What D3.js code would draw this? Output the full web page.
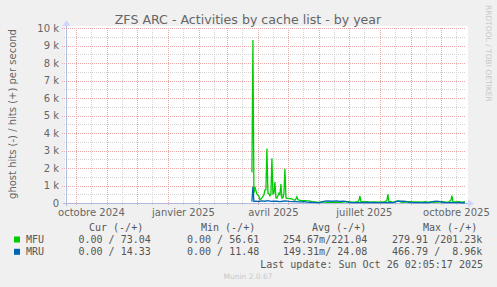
<!DOCTYPE html>
<html>
<head>
<meta charset="utf-8">
<script src="https://cdn.jsdelivr.net/npm/d3@7"></script>
<style>
  body { margin: 0; background: #F0F0F0; }
  svg { display: block; font-family: "DejaVu Sans", sans-serif; }
  .mono { font-family: "DejaVu Sans Mono", monospace; }
</style>
</head>
<body>
<svg id="chart" width="497" height="287"></svg>
<script>
// time window of the munin yearly graph (400 days)
var startTime = new Date(2024, 8, 21, 2, 5, 17);
var endTime = new Date(2025, 9, 26, 2, 5, 17);

var yTicks = [0, 1000, 2000, 3000, 4000, 5000, 6000, 7000, 8000, 9000, 10000];
var yTickLabels = ["0", "1 k", "2 k", "3 k", "4 k", "5 k", "6 k", "7 k", "8 k", "9 k", "10 k"];
var xLabelDates = ["2024-10-16", "2025-01-16", "2025-04-16", "2025-07-16", "2025-10-16"];
var xLabels = ["octobre 2024", "janvier 2025", "avril 2025", "juillet 2025", "octobre 2025"];

// MFU hits per second
var mfuDates = ["2025-03-26","2025-03-27","2025-03-28","2025-03-29","2025-03-30","2025-03-31","2025-04-01","2025-04-02","2025-04-03","2025-04-04",
  "2025-04-05","2025-04-06","2025-04-07","2025-04-08","2025-04-09","2025-04-10","2025-04-11","2025-04-12","2025-04-13","2025-04-14",
  "2025-04-15","2025-04-16","2025-04-17","2025-04-18","2025-04-19","2025-04-20","2025-04-21","2025-04-22","2025-04-23","2025-04-24",
  "2025-04-25","2025-04-26","2025-04-27","2025-04-28","2025-04-29","2025-04-30","2025-05-01","2025-05-02","2025-05-03","2025-05-04",
  "2025-05-05","2025-05-06","2025-05-07","2025-05-08","2025-05-09","2025-05-10","2025-05-11","2025-05-12","2025-05-14","2025-05-16",
  "2025-05-18","2025-05-20","2025-05-22","2025-05-25","2025-05-28","2025-06-01","2025-06-04","2025-06-07","2025-06-10","2025-06-13",
  "2025-06-16","2025-06-19","2025-06-22","2025-06-25","2025-06-28","2025-07-01","2025-07-04","2025-07-07","2025-07-10","2025-07-11",
  "2025-07-12","2025-07-13","2025-07-16","2025-07-19","2025-07-22","2025-07-25","2025-07-28","2025-07-31","2025-08-03","2025-08-06",
  "2025-08-08","2025-08-09","2025-08-10","2025-08-13","2025-08-16","2025-08-19","2025-08-22","2025-08-25","2025-08-28","2025-08-31",
  "2025-09-03","2025-09-06","2025-09-09","2025-09-12","2025-09-15","2025-09-18","2025-09-21","2025-09-24","2025-09-27","2025-09-30",
  "2025-10-03","2025-10-06","2025-10-09","2025-10-11","2025-10-12","2025-10-13","2025-10-16","2025-10-19","2025-10-22","2025-10-25"];
var mfuValues = [1750, 9320, 560, 940, 700, 520, 450, 390, 170, 230,
  290, 380, 460, 740, 760, 3120, 560, 540, 410, 480,
  2550, 520, 560, 1200, 300, 280, 420, 560, 480, 1080,
  280, 300, 550, 1950, 300, 270, 260, 250, 260, 240,
  230, 200, 180, 170, 230, 360, 200, 170, 140, 130,
  130, 120, 120, 75, 60, 30, 60, 45, 40, 35,
  50, 40, 35, 45, 60, 70, 55, 60, 75, 140,
  400, 90, 60, 70, 55, 60, 65, 50, 60, 70,
  150, 500, 90, 60, 55, 130, 50, 40, 60, 80,
  70, 60, 65, 55, 70, 50, 60, 40, 45, 60,
  70, 55, 65, 150, 420, 80, 60, 70, 55, 73];

// MRU hits per second
var mruDates = ["2025-03-26","2025-03-27","2025-03-28","2025-03-30","2025-04-02","2025-04-05","2025-04-08","2025-04-11","2025-04-14","2025-04-17",
  "2025-04-20","2025-04-23","2025-04-26","2025-04-29","2025-05-02","2025-05-05","2025-05-08","2025-05-11","2025-05-14","2025-05-17",
  "2025-05-20","2025-05-23","2025-05-26","2025-05-29","2025-06-01","2025-06-04","2025-06-07","2025-06-10","2025-06-13","2025-06-16",
  "2025-06-19","2025-06-22","2025-06-25","2025-06-28","2025-07-01","2025-07-05","2025-07-10","2025-07-15","2025-07-20","2025-07-25",
  "2025-07-30","2025-08-04","2025-08-09","2025-08-14","2025-08-18","2025-08-21","2025-08-24","2025-08-27","2025-08-30","2025-09-04",
  "2025-09-09","2025-09-14","2025-09-19","2025-09-24","2025-09-27","2025-09-30","2025-10-03","2025-10-08","2025-10-13","2025-10-18",
  "2025-10-22","2025-10-25"];
var mruValues = [80, 930, 90, 110, 80, 120, 100, 140, 90, 110,
  100, 80, 100, 120, 90, 80, 90, 70, 60, 75,
  50, 40, 30, 20, 25, 60, 110, 120, 100, 110,
  120, 90, 100, 90, 40, 20, 25, 20, 30, 20,
  25, 20, 30, 20, 90, 110, 100, 90, 30, 20,
  25, 20, 25, 90, 100, 80, 25, 20, 25, 20,
  15, 14];

var svg = d3.select("#chart");
var parseDay = d3.timeParse("%Y-%m-%d");

var pLeft = 66, pRight = 466, pTop = 28, pBottom = 203;
var x = d3.scaleTime().domain([startTime, endTime]).range([pLeft, pRight]);
var y = d3.scaleLinear().domain([0, 10000]).range([pBottom, pTop]);

// canvas
svg.append("rect").attr("x", 0).attr("y", 0).attr("width", 497).attr("height", 287).attr("fill", "#F0F0F0");
svg.append("rect").attr("x", pLeft - 1).attr("y", pTop - 2).attr("width", pRight - pLeft + 3).attr("height", pBottom - pTop + 2).attr("fill", "#FFFFFF");

var grid = svg.append("g");
var minorColor = "#d4d4d4", majorColor = "#e8a8a8";

// minor horizontal grid every 500
var minorY = [];
for (var v = 500; v < 10000; v += 1000) minorY.push(v);
grid.selectAll(".hmin").data(minorY).enter().append("line")
  .attr("x1", pLeft - 2).attr("x2", pRight)
  .attr("y1", function(d) { return Math.round(y(d)) + 0.5; })
  .attr("y2", function(d) { return Math.round(y(d)) + 0.5; })
  .attr("stroke", minorColor).attr("stroke-dasharray", "1,1");

// minor vertical grid on the 16th of each month
var midMonths = d3.timeMonth.range(startTime, endTime).map(function(m) { return d3.timeDay.offset(m, 15); })
  .filter(function(d) { return d > startTime && d < endTime; });
grid.selectAll(".vmin").data(midMonths).enter().append("line")
  .attr("x1", function(d) { return Math.round(x(d)) + 0.5; })
  .attr("x2", function(d) { return Math.round(x(d)) + 0.5; })
  .attr("y1", pTop).attr("y2", pBottom + 2)
  .attr("stroke", minorColor).attr("stroke-dasharray", "1,1");

// major horizontal grid
grid.selectAll(".hmaj").data(yTicks.slice(1)).enter().append("line")
  .attr("x1", pLeft - 4).attr("x2", pRight)
  .attr("y1", function(d) { return Math.round(y(d)) + 0.5; })
  .attr("y2", function(d) { return Math.round(y(d)) + 0.5; })
  .attr("stroke", majorColor).attr("stroke-dasharray", "1,1");

// major vertical grid on month starts
var monthStarts = d3.timeMonth.range(startTime, endTime);
grid.selectAll(".vmaj").data(monthStarts).enter().append("line")
  .attr("x1", function(d) { return Math.round(x(d)) + 0.5; })
  .attr("x2", function(d) { return Math.round(x(d)) + 0.5; })
  .attr("y1", pTop).attr("y2", pBottom + 3)
  .attr("stroke", majorColor).attr("stroke-dasharray", "1,1");

// axes lines + arrows
var axisColor = "#b4b8dc";
svg.append("line").attr("x1", pLeft - 3).attr("x2", pRight + 3).attr("y1", pBottom + 0.5).attr("y2", pBottom + 0.5).attr("stroke", axisColor);
svg.append("line").attr("x1", pLeft + 0.5).attr("x2", pLeft + 0.5).attr("y1", pBottom + 3).attr("y2", pTop - 3).attr("stroke", axisColor);
svg.append("path").attr("d", "M" + (pRight + 2) + "," + (pBottom - 3.5) + "L" + (pRight + 8) + "," + (pBottom + 0.5) + "L" + (pRight + 2) + "," + (pBottom + 4.5) + "Z").attr("fill", "#cfd6f8");
svg.append("path").attr("d", "M" + (pLeft - 3.5) + "," + (pTop - 2) + "L" + (pLeft + 0.5) + "," + (pTop - 8) + "L" + (pLeft + 4.5) + "," + (pTop - 2) + "Z").attr("fill", "#cfd6f8");

// series lines
var mfu = mfuDates.map(function(d, i) { return { t: parseDay(d), v: mfuValues[i] }; });
var mru = mruDates.map(function(d, i) { return { t: parseDay(d), v: mruValues[i] }; });
var line = d3.line().x(function(d) { return x(d.t); }).y(function(d) { return y(d.v); });

svg.append("path").datum(mfu).attr("d", line).attr("fill", "none").attr("stroke", "#00CC00").attr("stroke-width", 1.3);
svg.append("path").datum(mru).attr("d", line).attr("fill", "none").attr("stroke", "#0066B3").attr("stroke-width", 1.3);

// axis labels
var yAxis = d3.axisLeft(y).tickValues(yTicks).tickSize(0).tickPadding(7)
  .tickFormat(function(d, i) { return yTickLabels[i]; });
var gy = svg.append("g").attr("transform", "translate(" + pLeft + ",0)").call(yAxis);
gy.select(".domain").remove();
gy.selectAll("text").attr("font-size", 10).attr("fill", "#666666").attr("font-family", "DejaVu Sans, sans-serif");

var xAxis = d3.axisBottom(x).tickValues(xLabelDates.map(parseDay)).tickSize(0).tickPadding(6)
  .tickFormat(function(d, i) { return xLabels[i]; });
var gx = svg.append("g").attr("transform", "translate(0," + pBottom + ")").call(xAxis);
gx.select(".domain").remove();
gx.selectAll("text").attr("font-size", 10).attr("fill", "#666666").attr("font-family", "DejaVu Sans, sans-serif");

// title and side texts
svg.append("text").attr("x", 248).attr("y", 24).attr("text-anchor", "middle")
  .attr("font-size", 12.6).attr("fill", "#666666").text("ZFS ARC - Activities by cache list - by year");
svg.append("text").attr("transform", "translate(15.5,114) rotate(-90)").attr("text-anchor", "middle")
  .attr("font-size", 10).attr("fill", "#666666").text("ghost hits (-) / hits (+) per second");
svg.append("text").attr("transform", "translate(485.5,5) rotate(90)").attr("text-anchor", "start")
  .attr("font-size", 7.5).attr("fill", "#c8c8c8").text("RRDTOOL / TOBI OETIKER");

// legend
var legendNames = ["MFU", "MRU"];
var legendColors = ["#00CC00", "#0066B3"];
var legendCur = ["0.00 / 73.04", "0.00 / 14.33"];
var legendMin = ["0.00 / 56.61", "0.00 / 11.48"];
var legendAvg = ["254.67m/221.04", "149.31m/ 24.08"];
var legendMax = ["279.91 /201.23k", "466.79 /  8.96k"];
var headers = ["Cur (-/+)", "Min (-/+)", "Avg (-/+)", "Max (-/+)"];
var headerX = [89, 201, 312, 423];
var colX = [78.5, 187, 283, 392];

var lg = svg.append("g").attr("class", "mono").attr("font-size", 10).attr("fill", "#555555");
lg.selectAll(".hdr").data(headers).enter().append("text")
  .attr("x", function(d, i) { return headerX[i]; }).attr("y", 231).text(function(d) { return d; });

legendNames.forEach(function(name, i) {
  var by = 243 + i * 12.3;
  lg.append("rect").attr("x", 14).attr("y", by - 6.5).attr("width", 6).attr("height", 6).attr("fill", legendColors[i]);
  lg.append("text").attr("x", 26).attr("y", by).text(name);
  [legendCur[i], legendMin[i], legendAvg[i], legendMax[i]].forEach(function(s, j) {
    lg.append("text").attr("x", colX[j]).attr("y", by).style("white-space", "pre").text(s);
  });
});
lg.append("text").attr("x", 483).attr("y", 267.5).attr("text-anchor", "end").style("white-space", "pre")
  .text("Last update: Sun Oct 26 02:05:17 2025");

svg.append("text").attr("x", 248).attr("y", 279).attr("text-anchor", "middle")
  .attr("font-size", 7.5).attr("fill", "#c8c8c8").text("Munin 2.0.67");
</script>
</body>
</html>
